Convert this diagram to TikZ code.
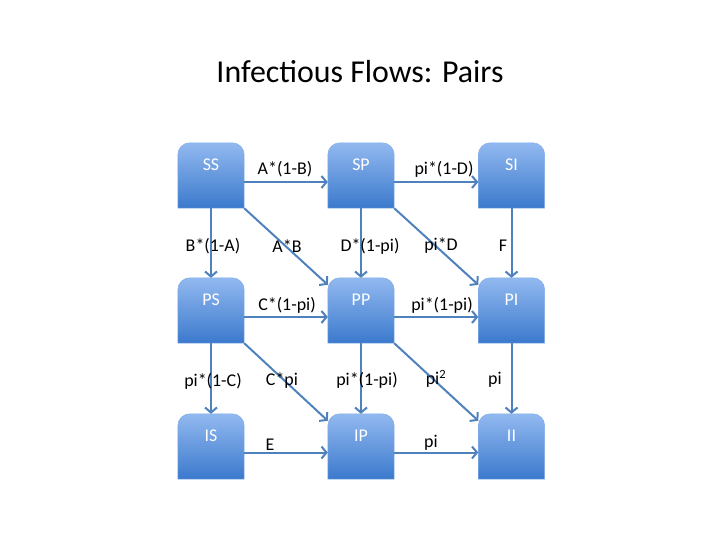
\documentclass[tikz,border=0pt]{standalone}
\usepackage{fontspec}
\setmainfont{Carlito}
\usetikzlibrary{arrows.meta}
\definecolor{boxtop}{HTML}{92B9F0}
\definecolor{boxbot}{HTML}{3B79CC}
\definecolor{arr}{HTML}{4F81BD}
\tikzset{
  box/.style={minimum width=66bp, minimum height=65bp, inner sep=0pt, draw=none},
  boxshade/.style={top color=boxtop, bottom color=boxbot, draw=boxtop!80!boxbot, line width=0.5bp},
  boxtext/.style={text=white, font=\fontsize{18}{20}\selectfont, inner sep=1bp},
  flow/.style={draw=arr, line width=2bp, -{Straight Barb[length=5bp,width=12bp,line width=2bp]}},
  lab/.style={font=\fontsize{18}{20}\selectfont, inner sep=1bp, text=black}
}
\newcommand\mybox[4]{%
  \node[box] (#1) at (#2,#3) {};
  \shade[boxshade] (#1.south west) -- ([yshift=-12bp]#1.north west)
     arc[start angle=180, end angle=90, radius=12bp]
     -- ([xshift=-12bp]#1.north east)
     arc[start angle=90, end angle=0, radius=12bp]
     -- (#1.south east) -- cycle;
  \node[boxtext] (#1t) at ([yshift=11bp]#1.center) {#4};
}
\begin{document}
\begin{tikzpicture}[x=1bp,y=-1bp]
\useasboundingbox (0,0) rectangle (720,540);
\node[font=\fontsize{32}{38}\selectfont] (title) at (360,72) {Infectious Flows: Pairs};

\mybox{SS}{211}{175.5}{SS}
\mybox{SP}{361}{175.5}{SP}
\mybox{SI}{511.5}{175.5}{SI}
\mybox{PS}{211}{310.5}{PS}
\mybox{PP}{361}{310.5}{PP}
\mybox{PI}{511.5}{310.5}{PI}
\mybox{IS}{211}{446.5}{IS}
\mybox{IP}{361}{446.5}{IP}
\mybox{II}{511.5}{446.5}{II}

% horizontal
\draw[flow] ([yshift=-6.5bp]SS.east) -- ([yshift=-6.5bp]SP.west);
\draw[flow] ([yshift=-6.5bp]SP.east) -- ([yshift=-6.5bp]SI.west);
\draw[flow] ([yshift=-6.5bp]PS.east) -- ([yshift=-6.5bp]PP.west);
\draw[flow] ([yshift=-6.5bp]PP.east) -- ([yshift=-6.5bp]PI.west);
\draw[flow] ([yshift=-6bp]IS.east) -- ([yshift=-6bp]IP.west);
\draw[flow] ([yshift=-6bp]IP.east) -- ([yshift=-6bp]II.west);
% vertical
\draw[flow] (SS.south) -- (PS.north);
\draw[flow] (SP.south) -- (PP.north);
\draw[flow] (SI.south) -- (PI.north);
\draw[flow] (PS.south) -- (IS.north);
\draw[flow] (PP.south) -- (IP.north);
\draw[flow] (PI.south) -- (II.north);
% diagonal
\draw[flow] (SS.south east) -- ([yshift=-7bp]PP.north west);
\draw[flow] (SP.south east) -- ([yshift=-7bp]PI.north west);
\draw[flow] (PS.south east) -- ([yshift=-7bp]IP.north west);
\draw[flow] (PP.south east) -- ([yshift=-7bp]II.north west);

% labels
\node[lab] (l1) at (285,169) {A*(1-B)};
\node[lab] (l2) at (444,169) {pi*(1-D)};
\node[lab] (l3) at (213,246) {B*(1-A)};
\node[lab] (l4) at (287,246) {A*B};
\node[lab] (l5) at (370,246) {D*(1-pi)};
\node[lab] (l6) at (441,246) {pi*D};
\node[lab] (l7) at (503,246) {F};
\node[lab] (l8) at (287,305) {C*(1-pi)};
\node[lab] (l9) at (442,305) {pi*(1-pi)};
\node[lab] (l10) at (213,381) {pi*(1-C)};
\node[lab] (l11) at (282,381) {C*pi};
\node[lab] (l12) at (367,380) {pi*(1-pi)};
\node[lab] (l13) at (436,379) {pi\textsuperscript{2}};
\node[lab] (l14) at (495,380) {pi};
\node[lab] (l15) at (270,445) {E};
\node[lab] (l16) at (431,443) {pi};
\end{tikzpicture}
\end{document}
